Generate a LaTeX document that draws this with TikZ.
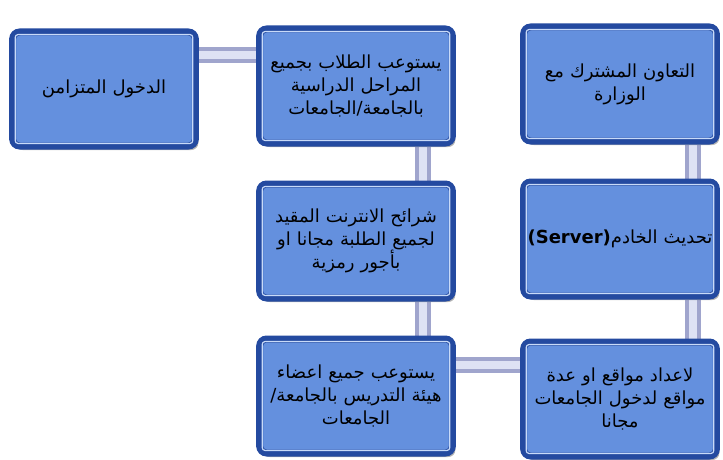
\documentclass[tikz,border=0pt]{standalone}
\usepackage{fontspec}
\newfontfamily\arabicfont[Script=Arabic]{DejaVu Sans}
\TeXXeTstate=1
\usetikzlibrary{shadows,backgrounds}
\definecolor{boxfill}{RGB}{100,144,222}
\definecolor{boxdark}{RGB}{36,74,160}
\definecolor{boxlight}{RGB}{200,218,248}
\definecolor{bardark}{RGB}{160,165,205}
\definecolor{barlight}{RGB}{222,226,244}

\begin{document}
\begin{tikzpicture}[x=1pt, y=-1pt,
  blockbox/.style={rectangle, rounded corners=7pt, draw=boxdark, line width=7pt, fill=boxfill,
    minimum width=192pt, minimum height=114pt, text width=186pt, align=center,
    font=\arabicfont\fontsize{18}{23}\selectfont,
    drop shadow={shadow xshift=3pt, shadow yshift=-4pt, opacity=.6}},
  shine/.style={draw=boxlight, line width=1.2pt, rounded corners=3pt},
  bar/.style={line width=16pt, draw=bardark, postaction={draw=barlight, line width=8pt}}]
  \useasboundingbox (0,0) rectangle (723,460);
  \node[blockbox, minimum width=182pt, text width=176pt] (entry) at (104,89) {\beginR الدخول المتزامن\endR};
  \node[blockbox] (students) at (356,86) {\beginR يستوعب الطلاب بجميع\endR\\ \beginR المراحل الدراسية\endR\\ \beginR بالجامعة/الجامعات\endR};
  \node[blockbox] (ministry) at (620,84) {\beginR التعاون المشترك مع\endR\\ \beginR الوزارة\endR};
  \node[blockbox] (sim) at (356,241) {\beginR شرائح الانترنت المقيد\endR\\ \beginR لجميع الطلبة مجانا او\endR\\ \beginR بأجور رمزية\endR};
  \node[blockbox] (server) at (620,239) {\beginR تحديث الخادم\beginL\textbf{(Server)}\endL\endR};
  \node[blockbox] (staff) at (356,396) {\beginR يستوعب جميع اعضاء\endR\\ \beginR هيئة التدريس بالجامعة/\endR\\ \beginR الجامعات\endR};
  \node[blockbox] (sites) at (620,399) {\beginR لاعداد مواقع او عدة\endR\\ \beginR مواقع لدخول الجامعات\endR\\ \beginR مجانا\endR};
  % inner light edge of each box
  \foreach \n in {entry,students,ministry,sim,server,staff,sites}
    \draw[shine] ([shift={(6pt,-6pt)}]\n.north west) rectangle ([shift={(-6pt,6pt)}]\n.south east);
  % connectors behind the boxes
  \begin{scope}[on background layer]
    \draw[bar] ([yshift=-27pt]entry.north east) -- ([yshift=-27pt]entry.north east -| students.west);
    \draw[bar] ([xshift=-33pt]students.south east) -- ([xshift=-33pt]sim.north east);
    \draw[bar] ([xshift=-33pt]sim.south east) -- ([xshift=-33pt]staff.north east);
    \draw[bar] ([xshift=-27pt]ministry.south east) -- ([xshift=-27pt]server.north east);
    \draw[bar] ([xshift=-27pt]server.south east) -- ([xshift=-27pt]sites.north east);
    \draw[bar] ([yshift=-29pt]staff.north east) -- ([yshift=-29pt]staff.north east -| sites.west);
  \end{scope}
\end{tikzpicture}
\end{document}
